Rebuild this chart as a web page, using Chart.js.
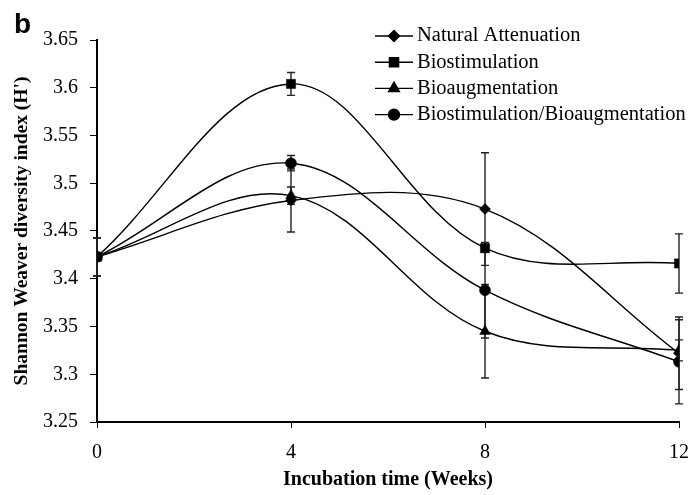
<!DOCTYPE html>
<html>
<head>
<meta charset="utf-8">
<script src="https://cdn.jsdelivr.net/npm/chart.js@4.4.1/dist/chart.umd.min.js"></script>
<style>
html,body{margin:0;padding:0;background:#fff;}
#wrap{position:relative;width:689px;height:495px;}
</style>
</head>
<body>
<div id="wrap"><canvas id="c" width="689" height="495"></canvas></div>
<script>
// ---- data ----
const weeks = [0, 4, 8, 12];
const seriesNames = ['Natural Attenuation', 'Biostimulation', 'Bioaugmentation', 'Biostimulation/Bioaugmentation'];
const naturalAttenuation    = [3.423, 3.482, 3.473, 3.322];
const naturalAttenuationErr = [0.020, 0.033, 0.059, 0.038];
const biostimulation        = [3.423, 3.604, 3.432, 3.416];
const biostimulationErr     = [0.020, 0.012, 0.004, 0.031];
const bioaugmentation       = [3.423, 3.487, 3.345, 3.325];
const bioaugmentationErr    = [0.020, 0.009, 0.049, 0.011];
const combined              = [3.423, 3.521, 3.388, 3.313];
const combinedErr           = [0.020, 0.008, 0.050, 0.044];
const yTickValues = [3.25, 3.3, 3.35, 3.4, 3.45, 3.5, 3.55, 3.6, 3.65];
const xTitle = 'Incubation time (Weeks)';
const yTitle = "Shannon Weaver diversity index (H')";
const panelLetter = 'b';

const markerStyles = ['rectRot', 'rect', 'triangle', 'circle'];
const markerRadius = [5.5, 6.5, 6.2, 5.5];
const seriesValues = [naturalAttenuation, biostimulation, bioaugmentation, combined];
const seriesErrors = [naturalAttenuationErr, biostimulationErr, bioaugmentationErr, combinedErr];

const SERIF = "'Liberation Serif', 'Times New Roman', serif";
Chart.defaults.font.family = SERIF;
Chart.defaults.color = '#000';

const datasets = seriesNames.map((name, i) => ({
  label: name,
  data: weeks.map((w, j) => ({x: w, y: seriesValues[i][j]})),
  errors: seriesErrors[i],
  borderColor: '#000',
  backgroundColor: '#000',
  borderWidth: 1.4,
  tension: 0.36,
  fill: false,
  pointStyle: markerStyles[i],
  pointRadius: markerRadius[i],
  pointBackgroundColor: '#000',
  pointBorderColor: '#000',
  pointBorderWidth: 0.5
}));

const errorBars = {
  id: 'errorBars',
  beforeDatasetsDraw(chart) {
    const ctx = chart.ctx;
    const xs = chart.scales.x, ys = chart.scales.y;
    ctx.save();
    ctx.strokeStyle = '#222';
    ctx.lineWidth = 1.4;
    chart.data.datasets.forEach(ds => {
      ds.data.forEach((p, j) => {
        const e = ds.errors[j];
        const px = xs.getPixelForValue(p.x);
        const top = ys.getPixelForValue(p.y + e);
        const bot = ys.getPixelForValue(p.y - e);
        ctx.beginPath();
        ctx.moveTo(px, top); ctx.lineTo(px, bot);
        ctx.moveTo(px - 4, top); ctx.lineTo(px + 4, top);
        ctx.moveTo(px - 4, bot); ctx.lineTo(px + 4, bot);
        ctx.stroke();
      });
    });
    ctx.restore();
  }
};

const customLegend = {
  id: 'customLegend',
  afterDraw(chart) {
    const ctx = chart.ctx;
    ctx.save();
    chart.data.datasets.forEach((ds, i) => {
      const y = 36 + i * 26.2;
      ctx.strokeStyle = '#000';
      ctx.lineWidth = 1.4;
      ctx.beginPath();
      ctx.moveTo(375, y); ctx.lineTo(413, y);
      ctx.stroke();
      ctx.fillStyle = '#000';
      Chart.helpers.drawPoint(ctx, {pointStyle: ds.pointStyle, radius: ds.pointRadius, borderWidth: 0.5, rotation: 0}, 394, y);
      ctx.font = "20.5px " + SERIF;
      ctx.textBaseline = 'middle';
      ctx.textAlign = 'left';
      ctx.fillText(ds.label, 417, y);
    });
    ctx.font = "bold 28px 'Liberation Sans', Arial, sans-serif";
    ctx.textBaseline = 'alphabetic';
    ctx.fillText(panelLetter, 14, 33);
    ctx.restore();
  }
};

new Chart(document.getElementById('c'), {
  type: 'line',
  data: {datasets},
  plugins: [errorBars, customLegend],
  options: {
    responsive: false,
    animation: false,
    layout: {padding: {top: 40, right: 10, left: 0, bottom: 0}},
    plugins: {legend: {display: false}, tooltip: {enabled: false}},
    scales: {
      x: {
        type: 'linear', min: 0, max: 12,
        afterBuildTicks: s => { s.ticks = weeks.map(v => ({value: v})); },
        afterFit: s => { s.height = 73; s.paddingRight = 0; s.paddingLeft = 0; },
        grid: {drawOnChartArea: false, drawTicks: true, tickLength: 6, color: '#000', lineWidth: 1},
        border: {color: '#000', width: 2},
        ticks: {color: '#000', font: {family: SERIF, size: 20}, padding: 13, maxRotation: 0, autoSkip: false},
        title: {display: true, text: xTitle, color: '#000', font: {family: SERIF, size: 20, weight: 'bold'}, padding: {top: 0, bottom: 3}}
      },
      y: {
        type: 'linear', min: 3.25, max: 3.65,
        afterBuildTicks: s => { s.ticks = yTickValues.map(v => ({value: v})); },
        afterFit: s => { s.width = 97; s.paddingTop = 0; s.paddingBottom = 0; },
        grid: {drawOnChartArea: false, drawTicks: true, tickLength: 7, color: '#000', lineWidth: 1},
        border: {color: '#000', width: 2},
        ticks: {color: '#000', font: {family: SERIF, size: 20}, padding: 12, autoSkip: false,
                callback: v => String(Math.round(v * 100) / 100)},
        title: {display: true, text: yTitle, color: '#000', font: {family: SERIF, size: 19.5, weight: 'bold'}, padding: {top: 10, bottom: 0}}
      }
    }
  }
});
</script>
</body>
</html>
